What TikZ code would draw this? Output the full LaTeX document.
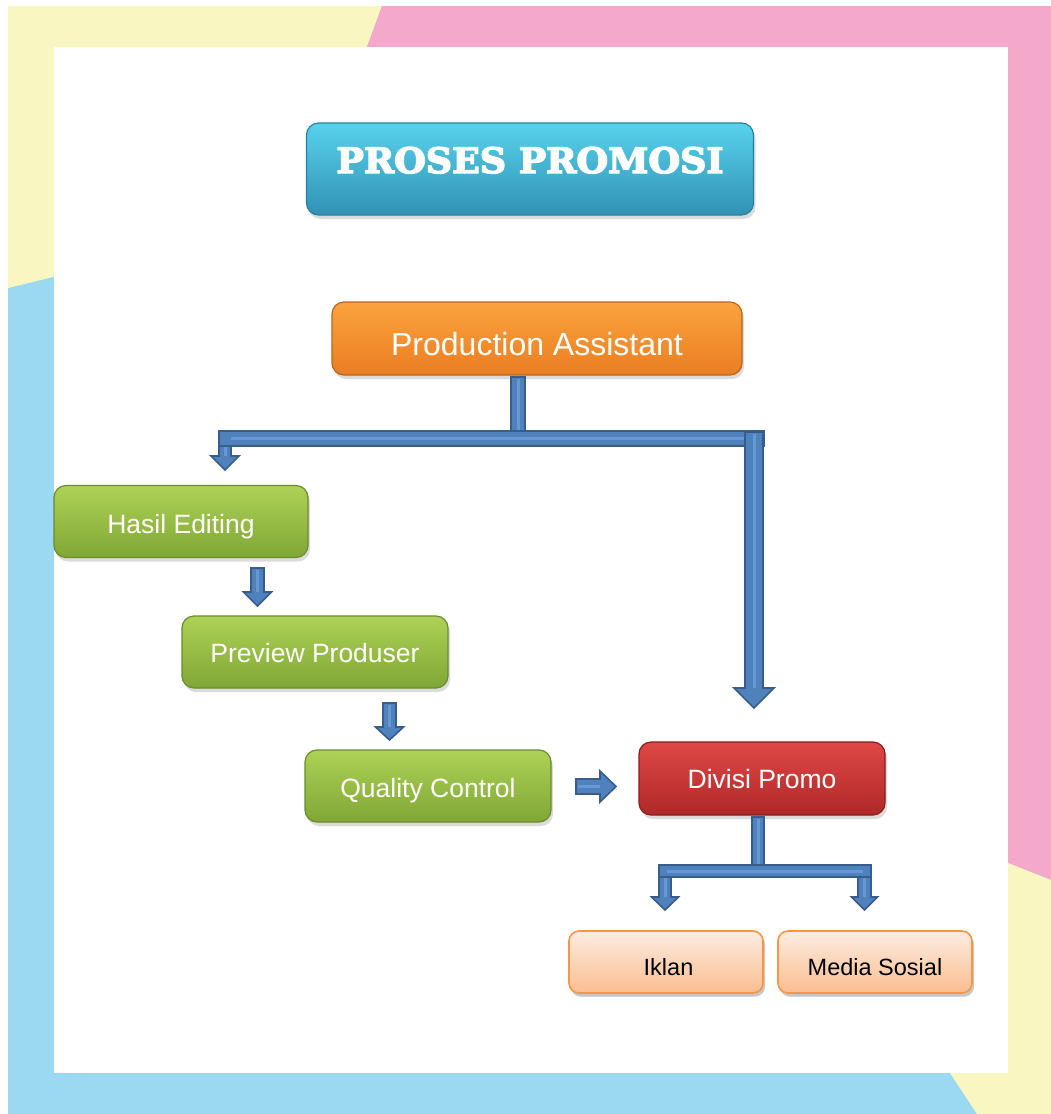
\documentclass[tikz,border=0pt]{standalone}
\usepackage{fontspec}
\setmainfont{Liberation Sans}
\newfontfamily\titlefont[FakeBold=4]{DejaVu Serif}
\usetikzlibrary{calc,shadows}

\definecolor{bgblue}{RGB}{155,216,242}
\definecolor{bgpink}{RGB}{244,168,202}
\definecolor{bgyellow}{RGB}{250,246,194}
\definecolor{arrfill}{RGB}{79,129,189}
\definecolor{arrline}{RGB}{56,93,138}
\definecolor{arrlight}{RGB}{104,152,212}
\definecolor{cyanT}{RGB}{88,210,236}
\definecolor{cyanB}{RGB}{48,146,180}
\definecolor{cyanD}{RGB}{38,128,158}
\definecolor{oraT}{RGB}{251,162,62}
\definecolor{oraB}{RGB}{234,126,34}
\definecolor{oraD}{RGB}{188,100,28}
\definecolor{grnT}{RGB}{174,210,86}
\definecolor{grnB}{RGB}{128,166,54}
\definecolor{grnD}{RGB}{106,140,44}
\definecolor{redT}{RGB}{222,72,70}
\definecolor{redB}{RGB}{176,40,40}
\definecolor{redD}{RGB}{136,30,30}
\definecolor{pchT}{RGB}{253,236,224}
\definecolor{pchB}{RGB}{250,190,144}
\definecolor{pchD}{RGB}{247,150,70}

% baseline offset helper: text baseline placed #1 pt below node centre
\newcommand\bl[2]{\smash{\raisebox{-#1pt}{#2}}}

% downward block arrow: #1 top coordinate, #2 tip coordinate, #3 half stem, #4 half head, #5 head length
\newcommand\darrow[5]{%
  \draw[arrbody] let \p1=(#1),\p2=(#2) in
    (\x2-#3,\y1) -- (\x2+#3,\y1) -- (\x2+#3,\y2+#5) -- (\x2+#4,\y2+#5) --
    (\x2,\y2) -- (\x2-#4,\y2+#5) -- (\x2-#3,\y2+#5) -- cycle;
  \draw[arrstripe] let \p1=(#1),\p2=(#2) in (\x2,\y1-2pt) -- (\x2,\y2+#5);}
% rightward block arrow: #1 start coordinate, #2 tip coordinate
\newcommand\rarrow[5]{%
  \draw[arrbody] let \p1=(#1),\p2=(#2) in
    (\x1,\y2+#3) -- (\x1,\y2-#3) -- (\x2-#5,\y2-#3) -- (\x2-#5,\y2-#4) --
    (\x2,\y2) -- (\x2-#5,\y2+#4) -- (\x2-#5,\y2+#3) -- cycle;
  \draw[arrstripe] let \p1=(#1),\p2=(#2) in (\x1+2pt,\y2) -- (\x2-#5,\y2);}

\tikzset{
  box/.style={rounded corners=12pt, line width=1.2pt, inner sep=0pt,
    drop shadow={shadow xshift=2pt, shadow yshift=-4pt, opacity=0.28}},
  titlebox/.style={box, top color=cyanT, bottom color=cyanB, draw=cyanD,
    minimum width=447pt, minimum height=92pt, text=white},
  orabox/.style={box, top color=oraT, bottom color=oraB, draw=oraD,
    minimum width=410pt, minimum height=73pt, text=white,
    font=\fontsize{32}{36}\selectfont},
  grnbox/.style={box, top color=grnT, bottom color=grnB, draw=grnD,
    minimum height=72pt, text=white, font=\fontsize{26.5}{30}\selectfont},
  redbox/.style={box, top color=redT, bottom color=redB, draw=redD,
    minimum width=246pt, minimum height=73pt, text=white,
    font=\fontsize{26.5}{30}\selectfont},
  pchbox/.style={box, rounded corners=10pt, top color=pchT, bottom color=pchB,
    draw=pchD, line width=1.6pt, minimum width=194pt, minimum height=62pt,
    text=black, font=\fontsize{23.5}{27}\selectfont,
    drop shadow={shadow xshift=2pt, shadow yshift=-3pt, opacity=0.22}},
  arrbody/.style={fill=arrfill, draw=arrline, line width=1.6pt, line join=miter},
  arrstripe/.style={draw=arrlight, line width=3pt},
  barbody/.style={fill=arrfill, draw=arrline, line width=1.6pt}
}

\begin{document}
\begin{tikzpicture}[x=1pt,y=-1pt]
\useasboundingbox (0,0) rectangle (1051,1114);
% background frame
\fill[white] (0,0) rectangle (1051,1114);
\fill[bgblue] (8,6) rectangle (1051,1114);
\fill[bgyellow] (8,6) -- (382,6) -- (340,120) -- (53,277) -- (8,288) -- cycle;
\fill[bgpink] (382,6) -- (1051,6) -- (1051,880) -- (1008,863) -- (340,120) -- cycle;
\fill[bgyellow] (1051,880) -- (1051,1114) -- (977,1114) -- (950,1073) -- (1008,863) -- cycle;
\fill[white] (54,47) rectangle (1008,1073);

% nodes
\node[titlebox] (title) at (530,169)
  {\bl{4}{\titlefont\bfseries\fontsize{35}{38}\selectfont\scalebox{1.04}[1]{PROSES PROMOSI}}};
\node[orabox] (pa) at (537,338.5) {\bl{16.5}{Production Assistant}};
\node[grnbox, minimum width=254pt] (he) at (181,521.5) {\bl{11.5}{Hasil Editing}};
\node[grnbox, minimum width=266pt] (pp) at (315,652) {\bl{10}{Preview Produser}};
\node[grnbox, minimum width=246pt] (qc) at (428,786) {\bl{11}{Quality Control}};
\node[redbox] (dp) at (762,778.5) {\bl{9.5}{Divisi Promo}};
\node[pchbox] (ik) at (666,962) {\bl{13}{\hspace{5pt}Iklan}};
\node[pchbox] (ms) at (875,962) {\bl{13}{Media Sosial}};

% connector coordinates
\coordinate (c1s) at (518,377);
\coordinate (c1j) at (518,432);
\coordinate (c1lt) at (225,432);
\coordinate (c1lp) at (225,470);
\coordinate (c1rt) at (754,432);
\coordinate (c1rp) at (754,708);
\coordinate (c1bl) at (219,431);
\coordinate (c1br) at (764,446);
\coordinate (c2t) at (257.5,568);
\coordinate (c2p) at (257.5,606);
\coordinate (c3t) at (389.5,703);
\coordinate (c3p) at (389.5,740);
\coordinate (c4s) at (576,786.5);
\coordinate (c4p) at (616,786.5);
\coordinate (c5s) at (758,817);
\coordinate (c5j) at (758,866);
\coordinate (c5lt) at (665,866);
\coordinate (c5lp) at (665,910);
\coordinate (c5rt) at (864.5,866);
\coordinate (c5rp) at (864.5,910);
\coordinate (c5bl) at (659,865);
\coordinate (c5br) at (871,877);

% connector Production Assistant -> Hasil Editing / Divisi Promo
\darrow{c1lt}{c1lp}{6pt}{14pt}{14pt}
\draw[barbody] ($(c1s)+(-7,0)$) rectangle ($(c1j)+(7,0)$);
\draw[arrstripe] ($(c1s)+(0,2)$) -- (c1j);
\draw[barbody] (c1bl) rectangle (c1br);
\draw[arrstripe] ($(c1bl)+(12,7.5)$) -- ($(c1br)+(-12,-7.5)$);
\darrow{c1rt}{c1rp}{9pt}{20pt}{20pt}

% green chain
\darrow{c2t}{c2p}{6.5pt}{14pt}{14pt}
\darrow{c3t}{c3p}{6.5pt}{14pt}{13pt}
\rarrow{c4s}{c4p}{7.5pt}{15.5pt}{16pt}

% Divisi Promo -> Iklan / Media Sosial
\darrow{c5lt}{c5lp}{6pt}{13.5pt}{13pt}
\darrow{c5rt}{c5rp}{6.5pt}{13pt}{13pt}
\draw[barbody] ($(c5s)+(-6,0)$) rectangle ($(c5j)+(6,0)$);
\draw[arrstripe] ($(c5s)+(0,2)$) -- (c5j);
\draw[barbody] (c5bl) rectangle (c5br);
\draw[arrstripe] ($(c5bl)+(8,6)$) -- ($(c5br)+(-8,-6)$);
\end{tikzpicture}
\end{document}
